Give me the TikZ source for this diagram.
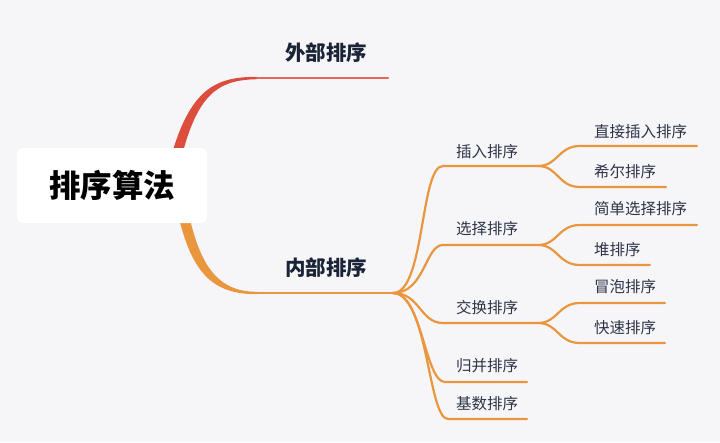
\documentclass[tikz,border=0pt]{standalone}
\usepackage{fontspec}
\setmainfont{Noto Sans CJK SC}
\definecolor{bg}{HTML}{F6F6F9}
\definecolor{rd}{HTML}{DD4D3D}
\definecolor{orn}{HTML}{E9963F}
\definecolor{txt}{HTML}{2E3547}
\definecolor{dark}{HTML}{1B2436}
\begin{document}
\begin{tikzpicture}[x=1pt,y=-1pt,
  rootbox/.style={fill=white, rounded corners=6pt, minimum width=190pt, minimum height=75pt, inner sep=0pt, text=black, font=\fontsize{31.5}{36}\selectfont\bfseries},
  lvlone/.style={anchor=west, inner sep=0pt, text=dark, font=\fontsize{20.5}{24}\selectfont\bfseries},
  lvltwo/.style={anchor=west, inner sep=0pt, text=txt, font=\fontsize{15.5}{18}\selectfont},
  branch/.style={draw=orn, line width=2.2pt, line cap=round},
  redline/.style={draw=rd!85!white, line width=2.2pt, line cap=round}]
\useasboundingbox[fill=bg] (0,0) rectangle (720,442);

% level-1 branch ends
\coordinate (ext-s) at (257,78);
\coordinate (ext-e) at (388,78);
\coordinate (int-s) at (257,293);
\coordinate (int-e) at (393,293);

% tapered branches out of the root
\fill[rd] (167,172) .. controls (187,90) and (213,76.8) .. (257,76.8) -- (257,79.2)
  .. controls (216,80) and (195,95) .. (178,172) -- cycle;
\draw[redline] (ext-s) -- (ext-e);
\fill[orn] (176,205) .. controls (190,273) and (212,294.3) .. (257,294.2) -- (257,291.8)
  .. controls (219,291.8) and (199,268) .. (187,205) -- cycle;
\draw[branch] (int-s) -- (int-e);

% level-2 lines
\coordinate (ins-s) at (443,166); \coordinate (ins-e) at (538,166);
\coordinate (sel-s) at (443,245); \coordinate (sel-e) at (538,245);
\coordinate (swp-s) at (443,323); \coordinate (swp-e) at (538,323);
\coordinate (mrg-s) at (445,382); \coordinate (mrg-e) at (527,382);
\coordinate (rad-s) at (448,419); \coordinate (rad-e) at (527,419);

\draw[branch] (int-e) .. controls (425,293) and (420,166) .. (ins-s) -- (ins-e);
\draw[branch] (int-e) .. controls (425,293) and (425,245) .. (sel-s) -- (sel-e);
\draw[branch] (int-e) .. controls (420,293) and (420,323) .. (swp-s) -- (swp-e);
\draw[branch] (int-e) .. controls (422,293) and (425,382) .. (mrg-s) -- (mrg-e);
\draw[branch] (int-e) .. controls (428,293) and (428,419) .. (rad-s) -- (rad-e);

% level-3 lines
\coordinate (dir-s) at (580,146); \coordinate (dir-e) at (697,146);
\coordinate (she-s) at (580,187); \coordinate (she-e) at (666,187);
\coordinate (sim-s) at (580,225); \coordinate (sim-e) at (697,225);
\coordinate (hea-s) at (580,265); \coordinate (hea-e) at (650,265);
\coordinate (bub-s) at (580,303); \coordinate (bub-e) at (665,303);
\coordinate (qui-s) at (580,343); \coordinate (qui-e) at (665,343);

\draw[branch] (ins-e) .. controls (558,166) and (558,146) .. (dir-s) -- (dir-e);
\draw[branch] (ins-e) .. controls (558,166) and (558,187) .. (she-s) -- (she-e);
\draw[branch] (sel-e) .. controls (558,245) and (558,225) .. (sim-s) -- (sim-e);
\draw[branch] (sel-e) .. controls (558,245) and (558,265) .. (hea-s) -- (hea-e);
\draw[branch] (swp-e) .. controls (558,323) and (558,303) .. (bub-s) -- (bub-e);
\draw[branch] (swp-e) .. controls (558,323) and (558,343) .. (qui-s) -- (qui-e);

% root
\node[rootbox] (root) at (112,185.5) {排序算法};

% labels
\node[lvlone] (ext) at (285,53) {外部排序};
\node[lvlone] (int) at (285,268) {内部排序};

\node[lvltwo] (ins) at (456,152) {插入排序};
\node[lvltwo] (sel) at (456,229) {选择排序};
\node[lvltwo] (swp) at (456,308) {交换排序};
\node[lvltwo] (mrg) at (456,366) {归并排序};
\node[lvltwo] (rad) at (456,404) {基数排序};

\node[lvltwo] (dir) at (594,132) {直接插入排序};
\node[lvltwo] (she) at (594,172) {希尔排序};
\node[lvltwo] (sim) at (594,209) {简单选择排序};
\node[lvltwo] (hea) at (594,250) {堆排序};
\node[lvltwo] (bub) at (594,287) {冒泡排序};
\node[lvltwo] (qui) at (594,328) {快速排序};
\end{tikzpicture}
\end{document}
